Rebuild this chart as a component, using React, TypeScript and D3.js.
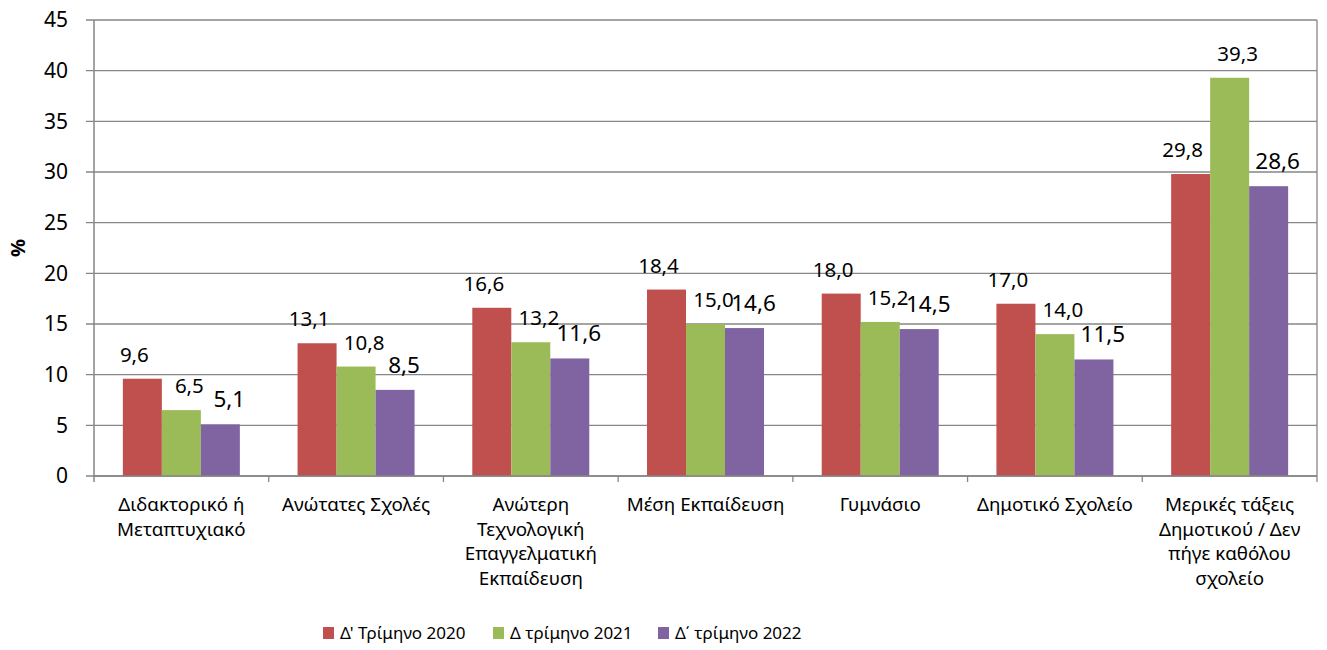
import React from "react";
import * as d3 from "d3";

const categories: string[][] = [
  ["Διδακτορικό ή", "Μεταπτυχιακό"],
  ["Ανώτατες Σχολές"],
  ["Ανώτερη", "Τεχνολογική", "Επαγγελματική", "Εκπαίδευση"],
  ["Μέση Εκπαίδευση"],
  ["Γυμνάσιο"],
  ["Δημοτικό Σχολείο"],
  ["Μερικές τάξεις", "Δημοτικού / Δεν", "πήγε καθόλου", "σχολείο"],
];
const seriesNames = ["Δ' Τρίμηνο 2020", "Δ τρίμηνο 2021", "Δ΄ τρίμηνο 2022"];
const values2020 = [9.6, 13.1, 16.6, 18.4, 18.0, 17.0, 29.8];
const values2021 = [6.5, 10.8, 13.2, 15.0, 15.2, 14.0, 39.3];
const values2022 = [5.1, 8.5, 11.6, 14.6, 14.5, 11.5, 28.6];
const yTicks = [0, 5, 10, 15, 20, 25, 30, 35, 40, 45];

const colors = ["#C0504D", "#9BBB59", "#8064A2"];
const labelSizes = [20.5, 20.5, 22.5];
const labelDx = [-8, 8, 9];
const FONT = "'Noto Sans', sans-serif";

export default function App() {
  const W = 1327, H = 650;
  const left = 94, right = 1317, top = 20, bottom = 476;
  const series = [values2020, values2021, values2022];
  const idx = categories.map((_, i) => i);
  const x = d3.scaleBand<number>().domain(idx).range([left, right]).paddingInner(0).paddingOuter(0);
  const bw = x.bandwidth();
  const xs = d3.scaleBand<number>().domain([0, 1, 2]).range([0, bw]).paddingInner(0).paddingOuter(0.74);
  const y = d3.scaleLinear().domain([0, 45]).range([bottom, top]);
  const fmt = (v: number) => d3.format(".1f")(v).replace(".", ",");
  const grid = "#868686";

  const legendX = [323, 493, 658];

  return (
    <svg width={W} height={H} style={{ position: "absolute", left: 0, top: 0, background: "#fff" }} fontFamily={FONT}>
      {yTicks.map((t) => (
        <g key={t}>
          <line x1={left - 8} x2={right} y1={y(t)} y2={y(t)} stroke={grid} strokeWidth={1.3} />
          <text x={68} y={y(t)} dy="0.35em" textAnchor="end" fontSize={21} fill="#000">{t}</text>
        </g>
      ))}
      <line x1={left} x2={left} y1={top} y2={bottom + 6} stroke={grid} strokeWidth={1.5} />
      <line x1={right} x2={right} y1={top} y2={bottom} stroke={grid} strokeWidth={1.3} />
      {idx.map((i) => (
        <line key={i} x1={x(i)! + bw} x2={x(i)! + bw} y1={bottom} y2={bottom + 6} stroke={grid} strokeWidth={1.3} />
      ))}
      {series.map((vals, s) =>
        vals.map((v, i) => (
          <rect key={`${s}-${i}`} x={x(i)! + xs(s)!} y={y(v)} width={xs.bandwidth()} height={bottom - y(v)} fill={colors[s]} />
        ))
      )}
      <line x1={left} x2={right} y1={bottom} y2={bottom} stroke={grid} strokeWidth={1.5} />
      {series.map((vals, s) =>
        vals.map((v, i) => (
          <text key={`l${s}-${i}`} x={x(i)! + xs(s)! + xs.bandwidth() / 2 + labelDx[s]} y={y(v) - 17} textAnchor="middle" fontSize={labelSizes[s]} fill="#000">
            {fmt(v)}
          </text>
        ))
      )}
      {categories.map((lines, i) => (
        <text key={`c${i}`} textAnchor="middle" fontSize={18.8} fill="#000">
          {lines.map((ln, k) => (
            <tspan key={k} x={x(i)! + bw / 2} y={511 + k * 24.5}>{ln}</tspan>
          ))}
        </text>
      ))}
      <text transform={`translate(25,248) rotate(-90)`} textAnchor="middle" fontSize={20} fontWeight="bold" fill="#000">%</text>
      {seriesNames.map((n, s) => (
        <g key={`lg${s}`}>
          <rect x={legendX[s]} y={627} width={11} height={12} fill={colors[s]} />
          <text x={legendX[s] + 17} y={633} dy="0.36em" fontSize={17} fill="#000">{n}</text>
        </g>
      ))}
    </svg>
  );
}
